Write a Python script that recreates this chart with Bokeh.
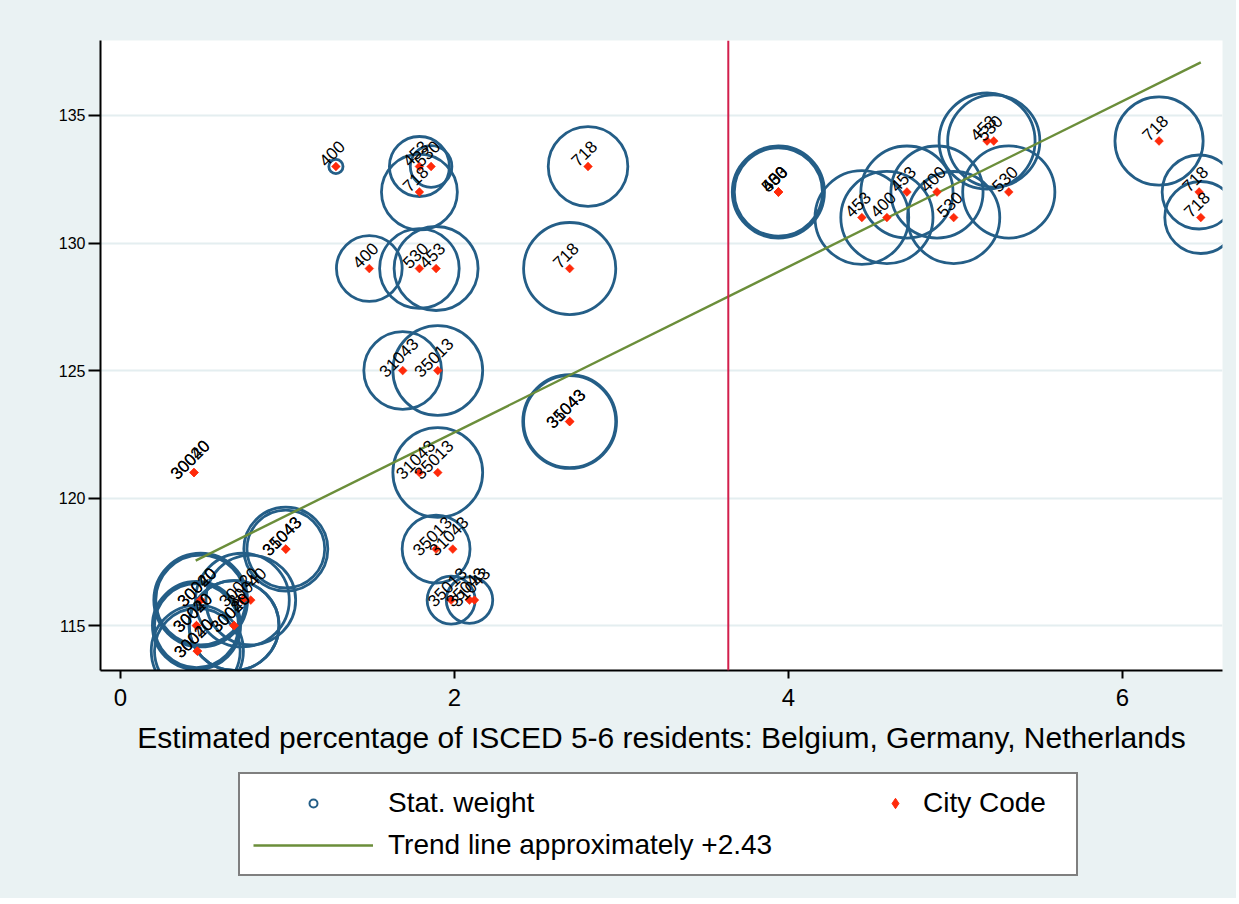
import math
from bokeh.plotting import figure
from bokeh.layouts import column
from bokeh.models import ColumnDataSource, Span, Legend, LegendItem, FixedTicker, Range1d
from bokeh.core.properties import value
from bokeh.embed import file_html
from bokeh.resources import INLINE

# ---------------- data ----------------
x_pct = [0.44, 0.44,
         0.48, 0.48, 0.455, 0.455, 0.46, 0.46, 0.68, 0.68, 0.73, 0.78,
         0.99, 0.99,
         1.29, 1.79, 1.86, 1.79,
         1.49, 1.79, 1.89,
         1.69, 1.90,
         1.79, 1.90,
         1.89, 1.99,
         1.98, 2.09, 2.12,
         2.80, 2.69, 2.69, 2.69,
         3.94, 3.94, 3.94,
         4.44, 4.59, 4.71, 4.89, 4.99, 5.19, 5.23, 5.32,
         6.22, 6.46, 6.47]
y_val = [121, 121,
         116, 116, 115, 115, 114, 114, 115, 115, 116, 116,
         118, 118,
         133, 133, 133, 132,
         129, 129, 129,
         125, 125,
         121, 121,
         118, 118,
         116, 116, 116,
         133, 129, 123, 123,
         132, 132, 132,
         131, 131, 132, 132, 131, 134, 134, 132,
         134, 132, 131]
city_code = ["30020", "30040",
             "30020", "30040", "30020", "30040", "30020", "30040", "30020", "30040", "30020", "30040",
             "31043", "35043",
             "400", "453", "530", "718",
             "400", "530", "453",
             "31043", "35013",
             "31043", "35013",
             "35013", "31043",
             "35013", "35043", "31043",
             "718", "718", "31043", "35043",
             "400", "453", "530",
             "453", "400", "453", "400", "530", "453", "530", "530",
             "718", "718", "718"]
stat_weight = [0, 0,
               56, 61, 49, 54, 51, 59, 56, 56, 61, 56,
               49, 42,
               1.4, 25, 12, 40,
               30, 44, 49,
               42, 56,
               0, 56,
               32, 0,
               16, 15, 0,
               44, 59, 59, 61,
               56, 59, 54,
               61, 59, 59, 59, 59, 64, 59, 59,
               54, 38, 36]

trend_x = [0.45, 6.47]
trend_y = [117.55, 137.08]
cutoff_x = 3.64

x_ticks = [0, 2, 4, 6]
y_ticks = [115, 120, 125, 130, 135]
x_title = "Estimated percentage of ISCED 5-6 residents: Belgium, Germany, Netherlands"
legend_labels = ["Stat. weight", "City Code", "Trend line approximately +2.43"]

# ---------------- sources ----------------
all_src = ColumnDataSource(dict(x=x_pct, y=y_val, code=city_code, w=stat_weight))
cx = [a for a, w in zip(x_pct, stat_weight) if w > 0]
cy = [b for b, w in zip(y_val, stat_weight) if w > 0]
cs = [12 * math.sqrt(w) for w in stat_weight if w > 0]
circ_src = ColumnDataSource(dict(x=cx, y=cy, s=cs))

FONT = "Liberation Sans"
BG = "#eaf2f3"
NAVY = "#245e87"
GREEN = "#6b8e3a"
RED = "#ff2a0a"
W = 1236

p = figure(width=W, height=770, x_range=(-0.12, 6.6), y_range=(113.24, 137.94),
           output_backend="svg", toolbar_location=None,
           min_border_left=100, min_border_right=W - 1222, min_border_top=40, min_border_bottom=100)
p.border_fill_color = BG
p.background_fill_color = "white"
p.outline_line_color = None

p.xgrid.visible = False
p.ygrid.grid_line_color = "#e4eef0"
p.ygrid.grid_line_width = 2

p.xaxis.ticker = FixedTicker(ticks=x_ticks, minor_ticks=[])
p.yaxis.ticker = FixedTicker(ticks=y_ticks, minor_ticks=[])
for ax in (p.xaxis, p.yaxis):
    ax.axis_line_width = 2
    ax.axis_line_color = "black"
    ax.major_tick_line_width = 2
    ax.major_tick_line_color = "black"
    ax.major_tick_in = 0
    ax.minor_tick_out = 0
    ax.minor_tick_in = 0
    ax.major_label_text_font = FONT
    ax.major_label_text_color = "black"
p.xaxis.major_tick_out = 8
p.yaxis.major_tick_out = 12
p.xaxis.major_label_text_font_size = "24px"
p.yaxis.major_label_text_font_size = "16px"
p.xaxis.major_label_standoff = 10
p.yaxis.major_label_standoff = 3
p.xaxis.axis_label = x_title
p.xaxis.axis_label_text_font = FONT
p.xaxis.axis_label_text_font_size = "30px"
p.xaxis.axis_label_text_font_style = "normal"
p.xaxis.axis_label_text_color = "black"
p.xaxis.axis_label_standoff = 12

# bubbles
p.scatter(x="x", y="y", size="s", source=circ_src, marker="circle",
          fill_color=None, line_color=NAVY, line_width=2.8)
# trend line
p.line(trend_x, trend_y, line_color=GREEN, line_width=2.4)
# city markers
p.scatter(x="x", y="y", source=all_src, marker="square", angle=math.pi / 4,
          size=6.2, fill_color=RED, line_color=RED, line_width=0.5)
# labels
p.text(x="x", y="y", text="code", source=all_src, angle=math.pi / 4,
       text_font=value(FONT), text_font_size="17px", text_color="black",
       text_align="center", text_baseline="middle", x_offset=-4, y_offset=-13)

p.add_layout(Span(location=cutoff_x, dimension="height", line_color="#d21f4c", line_width=2))

# ---------------- legend strip ----------------
p2 = figure(width=W, height=128, x_range=Range1d(0, 1), y_range=Range1d(0, 1),
            x_axis_type=None, y_axis_type=None, output_backend="svg", toolbar_location=None,
            min_border_left=0, min_border_right=0, min_border_top=0, min_border_bottom=0)
p2.border_fill_color = BG
p2.background_fill_color = None
p2.outline_line_color = None
p2.grid.visible = False

lg_circ = p2.scatter(x="x", y="y", size="s", source=circ_src, marker="circle",
                     fill_color=None, line_color=NAVY, line_width=2, visible=False)
lg_line = p2.line(trend_x, trend_y, line_color=GREEN, line_width=2.4, visible=False)
lg_dia = p2.scatter(x="x", y="y", source=all_src, marker="diamond",
                    fill_color=RED, line_color=RED, visible=False)

legA = Legend(items=[LegendItem(label=legend_labels[0], renderers=[lg_circ]),
                     LegendItem(label=legend_labels[2], renderers=[lg_line])],
              location=(138, 22), orientation="vertical",
              glyph_width=120, glyph_height=20, label_height=30, label_width=675,
              padding=13, spacing=10, label_standoff=15, margin=0,
              border_line_color="black", border_line_width=2,
              background_fill_color="white", background_fill_alpha=1,
              label_text_font=FONT, label_text_font_size="28px", label_text_color="black")
legB = Legend(items=[LegendItem(label=legend_labels[1], renderers=[lg_dia])],
              location=(782, 79), orientation="vertical",
              glyph_width=26, glyph_height=26, label_height=30,
              padding=0, spacing=0, label_standoff=15, margin=0,
              border_line_color=None, background_fill_alpha=0,
              label_text_font=FONT, label_text_font_size="28px", label_text_color="black")
p2.add_layout(legA, "center")
p2.add_layout(legB, "center")

layout = column(p, p2, spacing=0, styles={"background-color": BG})
open("out.html", "w").write(file_html(layout, INLINE))
